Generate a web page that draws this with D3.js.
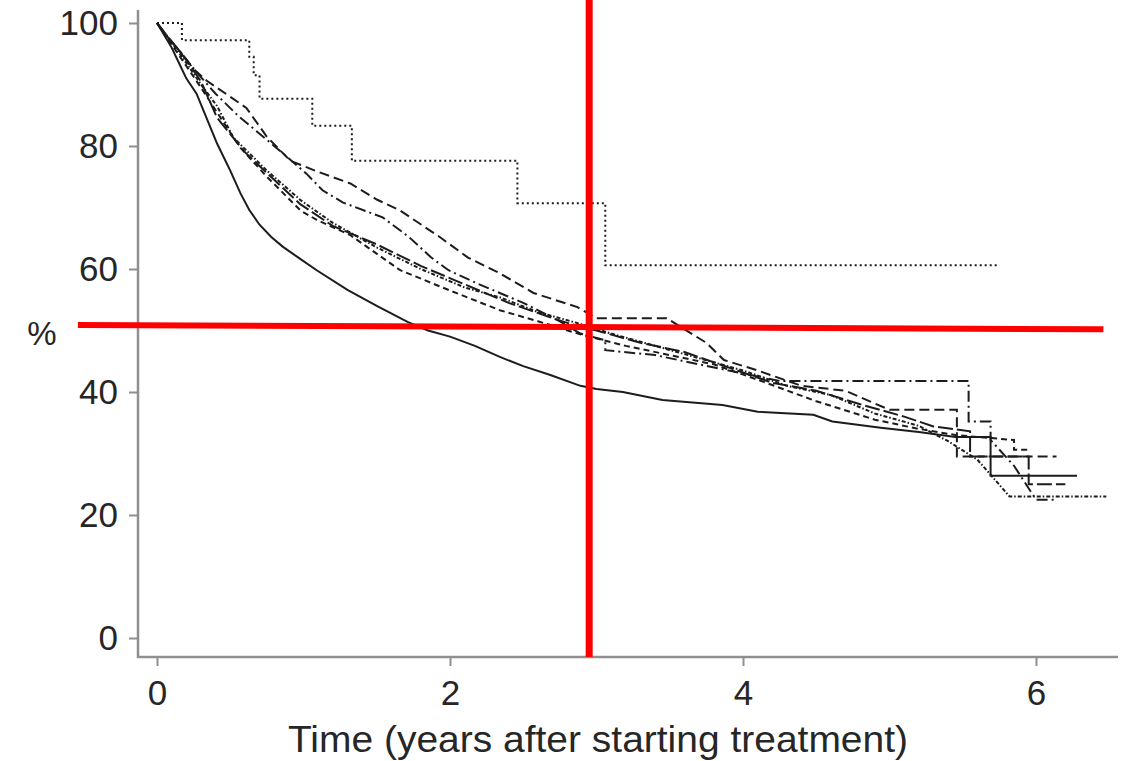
<!DOCTYPE html>
<html>
<head>
<meta charset="utf-8">
<script src="https://cdn.jsdelivr.net/npm/d3@7"></script>
<style>
  html, body { margin: 0; padding: 0; background: #fff; }
  svg { display: block; font-family: "Liberation Sans", Arial, sans-serif; }
</style>
</head>
<body>
<div id="chart"></div>
<script>
// Survival curves (time in years, % surviving)
const groupATime = [0, 0.17, 0.63, 0.66, 0.70, 1.06, 1.33, 2.46, 3.06, 5.75];
const groupAPct  = [100, 97.2, 94.5, 91.5, 87.7, 83.3, 77.6, 70.7, 60.6, 60.6];

const groupBTime = [0, 0.05, 0.1, 0.15, 0.2, 0.27, 0.41, 0.5, 0.57, 0.63,
  0.7, 0.78, 0.86, 0.98, 1.09, 1.3, 1.5, 1.71, 1.85, 2.0,
  2.17, 2.34, 2.5, 2.68, 2.89, 3.0, 3.18, 3.45, 3.86, 4.1,
  4.48, 4.61, 4.94, 5.2, 5.45, 5.69, 5.69, 6.28];
const groupBPct  = [100, 98, 96, 93.5, 91, 88.5, 80.4, 76, 72.3, 69.6,
  67.2, 65.2, 63.6, 61.6, 59.8, 56.6, 54, 51.4, 50, 49,
  47.5, 45.7, 44.2, 42.8, 41, 40.5, 40, 38.7, 37.9, 36.8,
  36.3, 35.2, 34.2, 33.5, 32.7, 32.7, 26.4, 26.4];

const groupCTime = [0, 0.08, 0.17, 0.25, 0.34, 0.5, 0.61, 0.75, 0.91, 1.1,
  1.32, 1.5, 1.66, 1.93, 2.12, 2.34, 2.57, 2.87, 3.0, 3.48,
  3.64, 3.75, 3.87, 4.1, 4.4, 4.7, 5.0, 5.46, 5.46, 6.14];
const groupCPct  = [100, 97.5, 95, 92.5, 90.6, 88, 86.2, 81.5, 77.6, 75.8,
  73.9, 71.3, 69.5, 65.2, 61.9, 59.3, 56.1, 53.8, 52.0, 52.0,
  49.6, 48, 45.2, 43.5, 41, 40.2, 37.1, 37.1, 29.5, 29.5];

const groupDTime = [0, 0.08, 0.17, 0.27, 0.4, 0.55, 0.7, 0.85, 1.02, 1.13,
  1.27, 1.54, 1.72, 1.87, 1.99, 2.2, 2.5, 2.75, 2.89, 3.06,
  3.06, 3.4, 3.7, 4.0, 4.25, 5.54, 5.54, 5.69, 5.69, 5.85,
  6.0, 6.13];
const groupDPct  = [100, 97.5, 95, 92, 88.5, 85, 82, 79, 75.5, 72.8,
  70.8, 68.4, 65.2, 61.9, 59.8, 57.5, 54.5, 51.5, 49.5, 48.4,
  46.8, 46, 44.5, 43, 41.8, 41.8, 35.2, 35.2, 32.2, 28,
  22.5, 22.5];

const groupETime = [0, 0.1, 0.2, 0.3, 0.45, 0.57, 0.75, 0.98, 1.09, 1.32,
  1.66, 2.0, 2.34, 2.6, 2.9, 3.2, 3.5, 3.8, 4.1, 4.5,
  4.9, 5.2, 5.45, 5.85, 5.85, 5.95];
const groupEPct  = [100, 96.5, 93, 89.5, 84, 79.7, 75, 69.5, 68, 65.5,
  59.8, 56.5, 53.3, 51.5, 49.3, 47.5, 46, 44.5, 42, 38.5,
  35.5, 34, 33, 32.2, 30.6, 30.6];

const groupFTime = [0, 0.1, 0.2, 0.3, 0.41, 0.52, 0.75, 0.98, 1.2, 1.5,
  1.8, 2.1, 2.34, 2.6, 2.9, 3.1, 3.4, 3.7, 4.0, 4.3,
  4.6, 4.9, 5.2, 5.4, 5.6, 5.82, 6.48];
const groupFPct  = [100, 96.8, 93.5, 90, 86.5, 81.4, 76, 71.2, 67.5, 63.5,
  60, 57, 55.4, 53, 51, 49.5, 47.5, 45.5, 43.5, 41,
  39.5, 36.5, 34.5, 32, 29, 23, 23];

const groupGTime = [0, 0.1, 0.2, 0.3, 0.41, 0.6, 0.8, 0.98, 1.2, 1.5,
  1.8, 2.1, 2.4, 2.7, 2.9, 3.0, 3.3, 3.6, 3.9, 4.2,
  4.5, 4.8, 5.1, 5.3, 5.55, 5.55, 5.95, 5.95, 6.2];
const groupGPct  = [100, 97, 94, 90.5, 84.6, 79, 74.5, 70.5, 67, 64,
  60.5, 57.5, 54.5, 52, 50.5, 50, 48, 46.5, 44, 41.5,
  40.2, 38, 36, 34.4, 33.6, 29.5, 29.5, 25, 25];

const xTicks = [0, 2, 4, 6];
const yTicks = [0, 20, 40, 60, 80, 100];

// red marker lines drawn on top of the figure
const markerTime = 2.95;
const markerLineTime = [-0.54, 6.46];
const markerLinePct = [50.9, 50.2];

const width = 1129, height = 761;

const x = d3.scaleLinear().domain([0, 6]).range([157, 1036]);
const y = d3.scaleLinear().domain([0, 100]).range([638, 23]);

const svg = d3.select("#chart").append("svg")
  .attr("width", width)
  .attr("height", height);

const axisColor = "#8f8f8f";
const textColor = "#262626";

// axes
const yAxis = svg.append("g")
  .attr("transform", "translate(138,0)")
  .call(d3.axisLeft(y).tickValues(yTicks).tickFormat(d3.format("d"))
    .tickSize(9).tickPadding(11).tickSizeOuter(0));
yAxis.select(".domain").remove();
svg.append("line")
  .attr("x1", 138).attr("x2", 138).attr("y1", 10).attr("y2", 658)
  .attr("stroke", axisColor).attr("stroke-width", 2.5);

const xAxis = svg.append("g")
  .attr("transform", "translate(0,657)")
  .call(d3.axisBottom(x).tickValues(xTicks).tickFormat(d3.format("d"))
    .tickSize(9).tickPadding(14).tickSizeOuter(0));
xAxis.select(".domain").remove();
svg.append("line")
  .attr("x1", 137).attr("x2", 1118).attr("y1", 657).attr("y2", 657)
  .attr("stroke", axisColor).attr("stroke-width", 2.5);

svg.selectAll(".tick line").attr("stroke", axisColor).attr("stroke-width", 2);
svg.selectAll(".tick text")
  .attr("fill", textColor)
  .style("font-size", "35px")
  .style("font-family", "'Liberation Sans', Arial, sans-serif");
xAxis.selectAll(".tick text").attr("dy", "0.71em");

svg.append("text")
  .attr("x", 598).attr("y", 752)
  .attr("text-anchor", "middle")
  .attr("fill", textColor)
  .style("font-size", "36px")
  .attr("textLength", 620)
  .attr("lengthAdjust", "spacingAndGlyphs")
  .text("Time (years after starting treatment)");

svg.append("text")
  .attr("x", 42).attr("y", 345)
  .attr("text-anchor", "middle")
  .attr("fill", textColor)
  .style("font-size", "33px")
  .text("%");

// curves
const groups = [
  { t: groupATime, s: groupAPct, dash: "2,3", curve: d3.curveStepAfter },
  { t: groupBTime, s: groupBPct, dash: null, curve: d3.curveLinear },
  { t: groupCTime, s: groupCPct, dash: "10,5", curve: d3.curveLinear },
  { t: groupDTime, s: groupDPct, dash: "11,4,2,4", curve: d3.curveLinear },
  { t: groupETime, s: groupEPct, dash: "6,4", curve: d3.curveLinear },
  { t: groupFTime, s: groupFPct, dash: "4,2,1.5,2", curve: d3.curveLinear },
  { t: groupGTime, s: groupGPct, dash: "15,4", curve: d3.curveLinear }
];

const plot = svg.append("g");
groups.forEach(g => {
  const pts = g.t.map((t, i) => [t, g.s[i]]);
  const line = d3.line()
    .x(d => x(d[0]))
    .y(d => y(d[1]))
    .curve(g.curve);
  plot.append("path")
    .datum(pts)
    .attr("d", line)
    .attr("fill", "none")
    .attr("stroke", "#1c1c1c")
    .attr("stroke-width", 2)
    .attr("stroke-dasharray", g.dash);
});

// red markers
svg.append("line")
  .attr("x1", x(markerLineTime[0])).attr("y1", y(markerLinePct[0]))
  .attr("x2", x(markerLineTime[1])).attr("y2", y(markerLinePct[1]))
  .attr("stroke", "#ff0000").attr("stroke-width", 6);
svg.append("line")
  .attr("x1", x(markerTime)).attr("x2", x(markerTime))
  .attr("y1", 0).attr("y2", 657)
  .attr("stroke", "#ff0000").attr("stroke-width", 7);
</script>
</body>
</html>
